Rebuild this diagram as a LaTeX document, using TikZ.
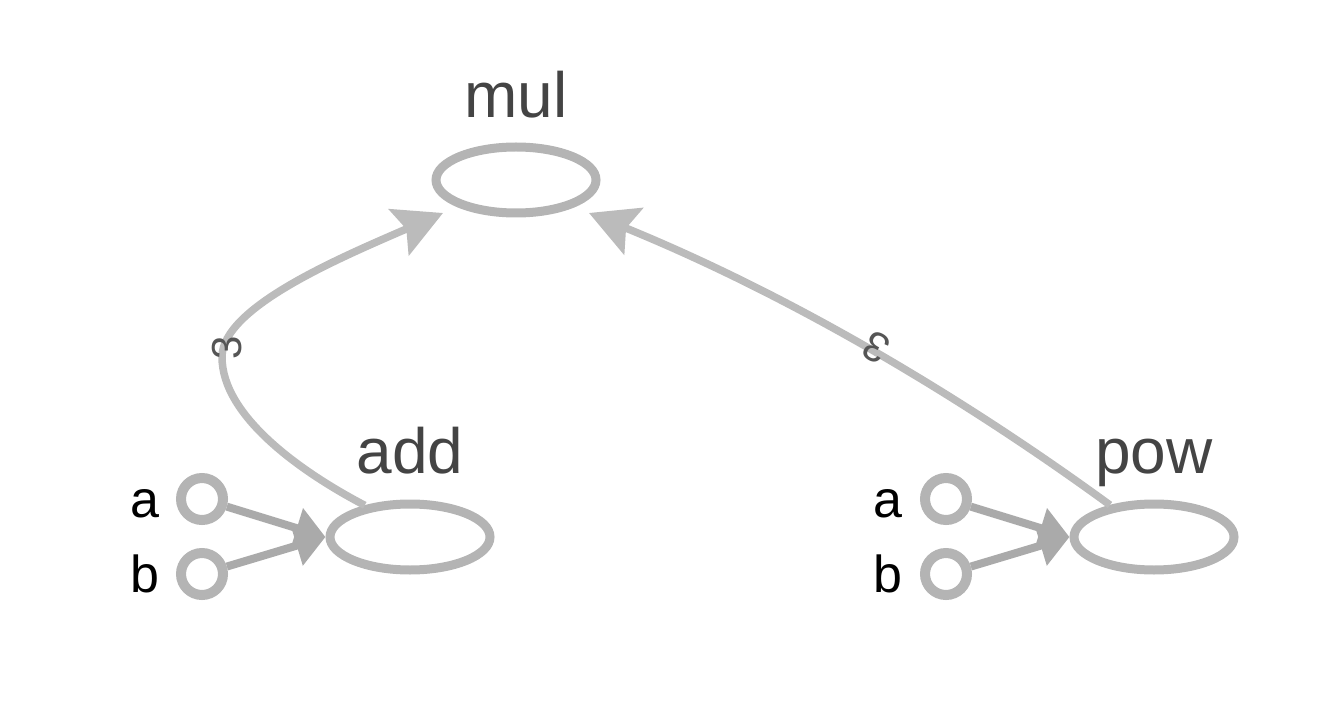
\documentclass[tikz,border=0pt]{standalone}
\usepackage{fontspec}
\setmainfont{Liberation Sans}
\usetikzlibrary{arrows.meta,shapes.geometric}
\definecolor{ring}{HTML}{B4B4B4}
\definecolor{flow}{HTML}{BBBBBB}
\definecolor{feed}{HTML}{AAAAAA}
\definecolor{caption}{HTML}{444444}
\definecolor{count}{HTML}{555555}
\begin{document}
\begin{tikzpicture}[x=0.5pt,y=-0.5pt,
  op/.style={ellipse,draw=ring,line width=4.5pt,minimum width=80pt,minimum height=33pt,inner sep=0pt},
  port/.style={circle,draw=ring,line width=5pt,minimum size=21pt,inner sep=0pt},
  opname/.style={text=caption,font=\fontsize{32}{32}\selectfont,anchor=base,inner sep=0pt},
  portname/.style={text=black,font=\fontsize{26}{26}\selectfont,anchor=base east,inner sep=0pt},
  feedarrow/.style={draw=feed,line width=4pt,-{Triangle[length=15pt,width=20pt]}},
  flowarrow/.style={draw=flow,line width=3.75pt,-{Stealth[length=24pt,width=25pt,inset=4pt]}},
  countlabel/.style={text=count,font=\fontsize{21}{21}\selectfont,inner sep=0pt}]
\useasboundingbox (0,0) rectangle (1342,716);

% operation nodes and their names
\node[op] (mul) at (516,180) {};
\node[op] (add) at (410,537) {};
\node[op] (pow) at (1154,537) {};
\node[opname] (mulname) at (516,118) {mul};
\node[opname] (addname) at (410,473) {add};
\node[opname] (powname) at (1154,473) {pow};

% inputs of add
\node[port] (adda) at (202,499) {};
\node[port] (addb) at (202,574) {};
\node[portname] (addaname) at (160,517) {a};
\node[portname] (addbname) at (160,592) {b};

% inputs of pow
\node[port] (powa) at (946,499) {};
\node[port] (powb) at (946,574) {};
\node[portname] (powaname) at (903,517) {a};
\node[portname] (powbname) at (903,592) {b};

% arrow ends below mul
\coordinate (mulL) at (443,213);
\coordinate (mulR) at (589,213);

% input arrows
\draw[feedarrow] (adda) -- (add.west);
\draw[feedarrow] (addb) -- (add.west);
\draw[feedarrow] (powa) -- (pow.west);
\draw[feedarrow] (powb) -- (pow.west);

% results flowing into mul
\draw[flowarrow] (add.145) .. controls (303,473) and (222,417) .. (222,357)
  .. controls (222,307) and (342,257) .. (mulL);
\draw[flowarrow] (pow.144) .. controls (955,392) and (785,293) .. (mulR);

% edge counts
\node[countlabel,rotate=90] (addcount) at (227,348) {3};
\node[countlabel,rotate=151] (powcount) at (876,347) {3};
\end{tikzpicture}
\end{document}
